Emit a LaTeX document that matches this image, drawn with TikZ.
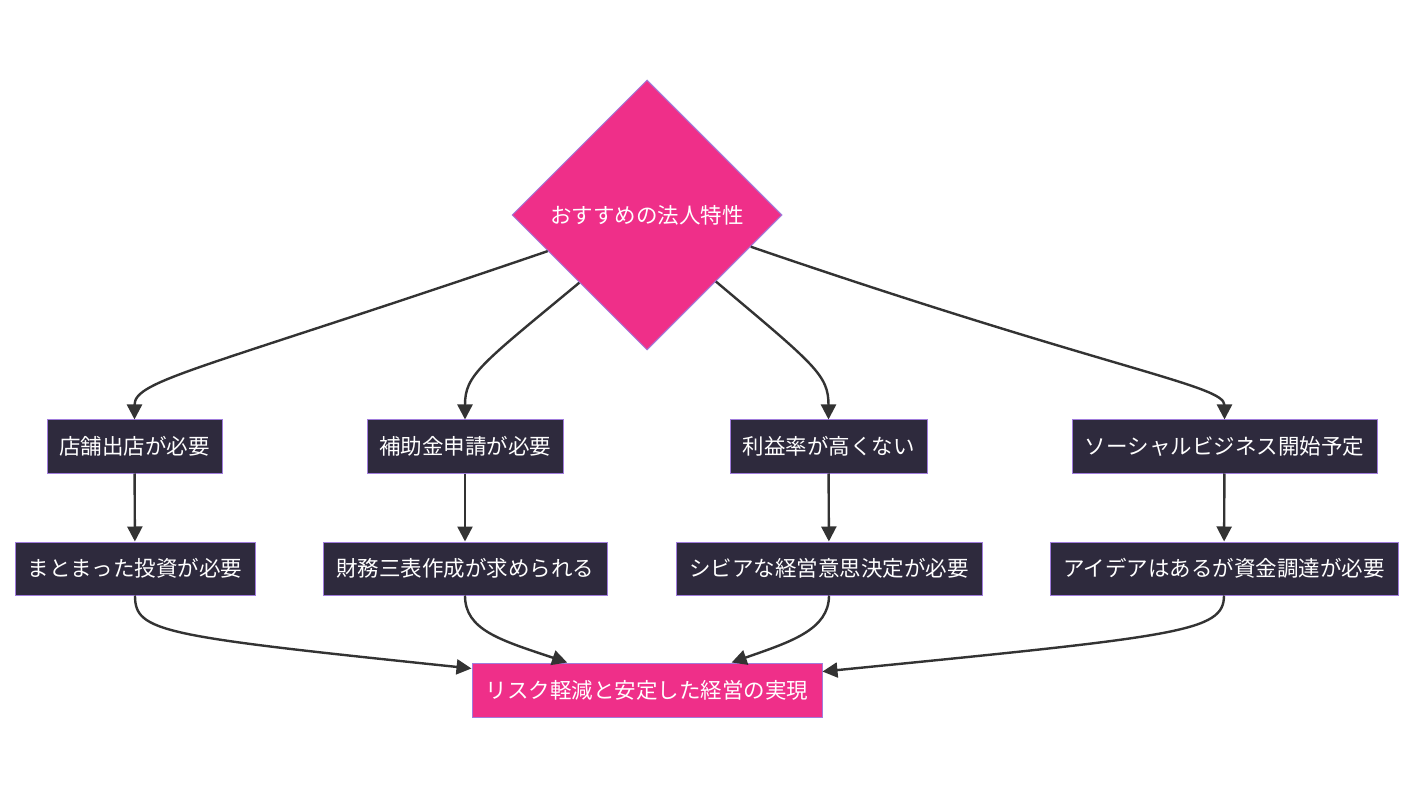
\documentclass[tikz,border=0pt]{standalone}
\usepackage{fontspec}
\setmainfont{Noto Sans CJK JP}
\usetikzlibrary{shapes.geometric,arrows.meta}
\definecolor{pinkc}{HTML}{EF2F89}
\definecolor{darkc}{HTML}{2E2A3D}
\definecolor{bordc}{HTML}{A07CDC}
\definecolor{edgec}{HTML}{333333}
\begin{document}
\begin{tikzpicture}[x=1pt,y=-1pt,
  txt/.style={text=white,font=\fontsize{21.5}{25}\selectfont,inner sep=0pt},
  decision/.style={txt,diamond,aspect=1,fill=pinkc,draw=bordc,line width=1pt,minimum width=270pt,minimum height=270pt},
  darkbox/.style={txt,rectangle,fill=darkc,draw=bordc,line width=1pt,minimum height=53pt},
  goalbox/.style={txt,rectangle,fill=pinkc,draw=bordc,line width=1pt,minimum height=54pt},
  conn/.style={draw=edgec,line width=2.4pt,-{Triangle[length=15pt,width=15pt]}}
]
\useasboundingbox[fill=white] (0,0) rectangle (1428,802);

\node[decision] (d) at (647,215) {おすすめの法人特性};

\node[darkbox,minimum width=175pt] (a1) at (134.5,446.5) {店舗出店が必要};
\node[darkbox,minimum width=196pt] (b1) at (465,446.5) {補助金申請が必要};
\node[darkbox,minimum width=197pt] (c1) at (828.5,446.5) {利益率が高くない};
\node[darkbox,minimum width=305pt] (e1) at (1224.5,446.5) {ソーシャルビジネス開始予定};

\node[darkbox,minimum width=240pt] (a2) at (135,568.5) {まとまった投資が必要};
\node[darkbox,minimum width=284pt] (b2) at (465,568.5) {財務三表作成が求められる};
\node[darkbox,minimum width=306pt] (c2) at (829,568.5) {シビアな経営意思決定が必要};
\node[darkbox,minimum width=348pt] (e2) at (1224,568.5) {アイデアはあるが資金調達が必要};

\node[goalbox,minimum width=350pt] (g) at (647,690) {リスク軽減と安定した経営の実現};

\draw[conn] (d.-160.6) .. controls (200,370) and (134.5,380) .. (a1.north);
\draw[conn] (d.-135.4) .. controls (480,365) and (465,375) .. (b1.north);
\draw[conn] (d.-44) .. controls (815,365) and (828.5,375) .. (c1.north);
\draw[conn] (d.-17.4) .. controls (1110,370) and (1224.5,385) .. (e1.north);

\draw[conn] (a1) -- (a2);
\draw[conn] (b1) -- (b2);
\draw[conn] (c1) -- (c2);
\draw[conn] (e1) -- (e2);

\draw[conn] (a2.south) .. controls (135,632) and (160,636) .. (g.173);
\draw[conn] (b2.south) .. controls (465,630) and (500,640) .. (g.161.8);
\draw[conn] (c2.south) .. controls (829,630) and (790,642) .. (g.18.4);
\draw[conn] (e2.south) .. controls (1224,632) and (1180,636) .. (g.6.5);
\end{tikzpicture}
\end{document}
